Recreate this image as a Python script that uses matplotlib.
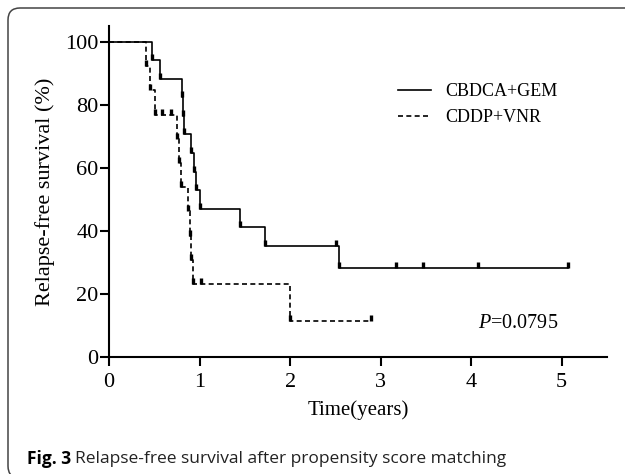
import matplotlib
matplotlib.use('Agg')
import matplotlib.pyplot as plt
from matplotlib.patches import FancyBboxPatch
from matplotlib.transforms import IdentityTransform

# (years, % relapse-free)
gem_t = [0, 0.48, 0.56, 0.81, 0.82, 0.83, 0.91, 0.94, 0.96, 1.01, 1.45, 1.72, 2.54]
gem_s = [100, 94.1, 88.2, 82.4, 76.5, 70.6, 64.7, 58.8, 52.9, 47.1, 41.2, 35.3, 28.2]
gem_cens_t = [2.51, 3.17, 3.47, 4.08, 5.07]
gem_cens_s = [35.3, 28.2, 28.2, 28.2, 28.2]

vnr_t = [0, 0.41, 0.45, 0.51, 0.75, 0.77, 0.79, 0.87, 0.89, 0.91, 0.93, 2.0]
vnr_s = [100, 92.3, 84.6, 76.9, 69.2, 61.5, 53.8, 46.2, 38.5, 30.8, 23.1, 11.5]
vnr_cens_t = [0.59, 0.69, 1.02, 2.89]
vnr_cens_s = [76.9, 76.9, 23.1, 11.5]

labels = ['CBDCA+GEM', 'CDDP+VNR']
p_text = '0.0795'

plt.rcParams['font.family'] = 'Liberation Serif'
plt.rcParams['mathtext.fontset'] = 'custom'
plt.rcParams['mathtext.it'] = 'Liberation Serif:italic'
plt.rcParams['mathtext.rm'] = 'Liberation Serif'

fig = plt.figure(figsize=(6.25, 4.74), dpi=100)
ax = fig.add_axes([0.1744, 0.2468, 0.7968, 0.6983])

tick_mark = [(0, 0), (0, 1)]  # small bar sitting on the curve

def km_line(ax, t, s, ct, cs, ls, label):
    end = max(ct)
    xs = list(t) + [end]
    ys = list(s) + [s[-1]]
    line, = ax.step(xs, ys, where='post', color='black', lw=1.2, ls=ls, label=label)
    if ls != '-':
        line.set_dashes([3, 2])
    ax.plot(t[1:], s[1:], ls='none', marker=tick_mark, ms=9, mew=2.4, color='black')
    ax.plot(ct, cs, ls='none', marker=tick_mark, ms=9, mew=2.4, color='black')
    return line

l1 = km_line(ax, gem_t, gem_s, gem_cens_t, gem_cens_s, '-', labels[0])
l2 = km_line(ax, vnr_t, vnr_s, vnr_cens_t, vnr_cens_s, '--', labels[1])

ax.set_xlim(0, 5.5)
ax.set_ylim(0, 105)
ax.set_xticks([0, 1, 2, 3, 4, 5])
ax.set_yticks([0, 20, 40, 60, 80, 100])
for side in ['top', 'right']:
    ax.spines[side].set_visible(False)
for side in ['left', 'bottom']:
    ax.spines[side].set_linewidth(1.5)
ax.tick_params(direction='out', length=6.5, width=1.5, labelsize=16, pad=1)
ax.tick_params(axis='x', pad=5)

ax.set_ylabel('Relapse-free survival (%)', fontsize=16, labelpad=7.5)
ax.set_xlabel('Time(years)', fontsize=15, labelpad=6)

leg = ax.legend(handles=[l1, l2], frameon=False, fontsize=13, loc='upper left',
                bbox_to_anchor=(0.548, 0.876), handlelength=1.8, handletextpad=0.8,
                labelspacing=0.5)

ax.text(4.08, 10.5, r'$P$=' + p_text, fontsize=14.5, va='center', ha='left')

# caption and rounded frame around the figure
cap_y = 1 - 459 / 474
cap = fig.text(27 / 625, cap_y, 'Fig. 3', fontsize=12.5, va='center', ha='left',
               family='Open Sans', fontweight='bold')
fig.canvas.draw()
bb = cap.get_window_extent()
fig.text((bb.x1 + 4) / 625, cap_y, 'Relapse-free survival after propensity score matching',
         fontsize=12.5, va='center', ha='left', family='Open Sans', color='#222222')

frame = FancyBboxPatch((8, -4), 640, 474 - 8 + 4, boxstyle='round,pad=0,rounding_size=12',
                       transform=IdentityTransform(), fill=False, ec='#444444', lw=1.1)
fig.patches.append(frame)

fig.savefig('out.png', dpi=100)
